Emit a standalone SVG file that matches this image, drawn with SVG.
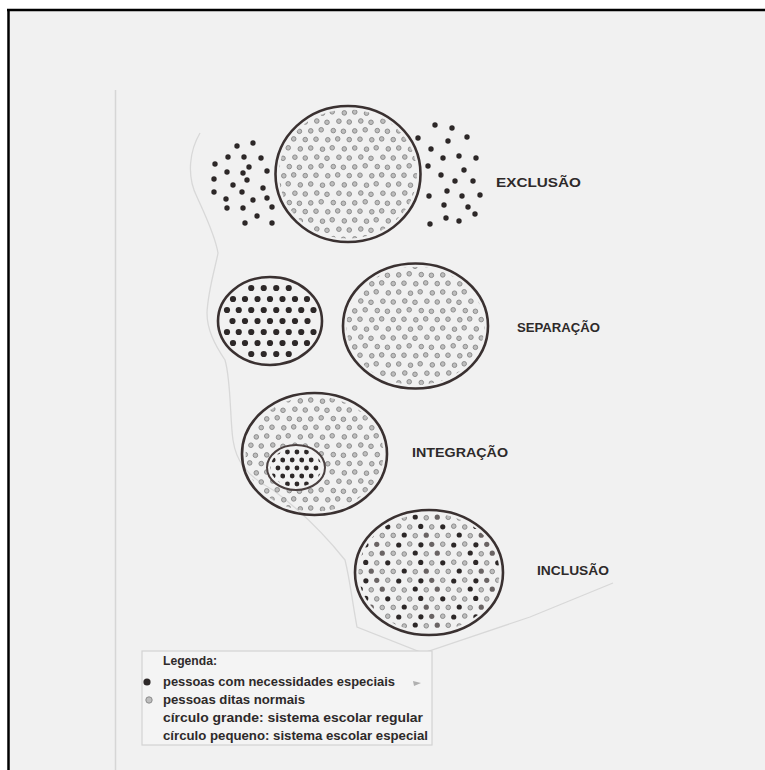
<svg xmlns="http://www.w3.org/2000/svg" width="765" height="770" viewBox="0 0 765 770">
<style>
.t{font-family:"Liberation Sans",Arial,sans-serif;font-weight:bold;fill:#2e2a2a}
.lbl{font-size:13px}
.leg{font-size:12.5px}
.ring{fill:none;stroke:#3a3131;stroke-width:2.6}
.ring2{fill:none;stroke:#4a4040;stroke-width:2}
.dk{fill:#2d2828}
.md{fill:#6a6464}
.gy{fill:#bdbdbd;stroke:#858585;stroke-width:0.9}
</style>
<defs>
<pattern id="pg" width="44" height="36" patternUnits="userSpaceOnUse">
<g class="gy">
<circle cx="2.75" cy="4.0" r="2.3"/><circle cx="14.5" cy="5.2" r="2.3"/><circle cx="24.2" cy="3.8" r="2.3"/><circle cx="36.3" cy="4.9" r="2.3"/>
<circle cx="8.8" cy="13.0" r="2.3"/><circle cx="19.0" cy="14.3" r="2.3"/><circle cx="30.9" cy="13.2" r="2.3"/><circle cx="41.25" cy="14.0" r="2.3"/>
<circle cx="2.75" cy="22.9" r="2.3"/><circle cx="13.2" cy="21.8" r="2.3"/><circle cx="25.3" cy="22.6" r="2.3"/><circle cx="35.4" cy="23.3" r="2.3"/>
<circle cx="8.0" cy="31.2" r="2.3"/><circle cx="19.8" cy="31.8" r="2.3"/><circle cx="29.7" cy="30.9" r="2.3"/><circle cx="41.25" cy="31.6" r="2.3"/>
</g>
</pattern>
<pattern id="ps" width="19" height="16" patternUnits="userSpaceOnUse">
<g class="dk">
<circle cx="2.45" cy="4" r="2.4"/><circle cx="11.95" cy="4" r="2.4"/>
<circle cx="7.2" cy="12" r="2.4"/><circle cx="16.7" cy="12" r="2.4"/>
</g>
</pattern>
<pattern id="pm" width="55" height="36" patternUnits="userSpaceOnUse">
<circle class="gy" cx="2.75" cy="4.2" r="2.3"/><circle class="dk" cx="13.75" cy="5.0" r="2.6"/><circle class="gy" cx="24.75" cy="4.0" r="2.3"/><circle class="dk" cx="35.9" cy="4.8" r="2.6"/><circle class="md" cx="46.75" cy="4.3" r="2.6"/>
<circle class="gy" cx="8.25" cy="13.3" r="2.3"/><circle class="gy" cx="19.25" cy="14.0" r="2.3"/><circle class="dk" cx="30.25" cy="13.0" r="2.6"/><circle class="gy" cx="41.25" cy="13.8" r="2.3"/><circle class="md" cx="52.25" cy="13.2" r="2.6"/>
<circle class="dk" cx="2.75" cy="22.8" r="2.6"/><circle class="gy" cx="13.75" cy="22.2" r="2.3"/><circle class="gy" cx="24.75" cy="23.0" r="2.3"/><circle class="dk" cx="35.75" cy="22.4" r="2.6"/><circle class="gy" cx="46.75" cy="22.9" r="2.3"/>
<circle class="gy" cx="8.25" cy="31.4" r="2.3"/><circle class="dk" cx="19.25" cy="31.0" r="2.6"/><circle class="gy" cx="30.25" cy="31.7" r="2.3"/><circle class="md" cx="41.25" cy="31.2" r="2.6"/><circle class="gy" cx="52.25" cy="31.5" r="2.3"/>
</pattern>
</defs>

<!-- background / scanned page -->
<rect x="0" y="0" width="765" height="770" fill="#ffffff"/>
<rect x="8" y="10" width="757" height="760" fill="#f1f1f1"/>
<line x1="8.5" y1="9" x2="8.5" y2="770" stroke="#000" stroke-width="2.5"/>
<line x1="7" y1="10" x2="765" y2="10" stroke="#000" stroke-width="2.5"/>
<line x1="115.5" y1="90" x2="115.5" y2="770" stroke="#d6d6d6" stroke-width="1.5"/>
<path d="M200,133 C190,150 186,175 197,197 C205,215 215,235 218,253 C216,265 208,290 207,313 C207,330 215,345 225,360 C231,380 230,420 233,440 C236,460 245,475 273,490 C300,510 325,535 345,560 C350,580 352,600 357,627 L423,653 L530,617 L613,583" fill="none" stroke="#d8d8d8" stroke-width="1.3"/>

<g id="connectors"></g>

<g id="exclusao">
<ellipse cx="348" cy="174" rx="69" ry="64.5" fill="url(#pg)"/>
<ellipse class="ring" cx="348" cy="174" rx="72.5" ry="68"/>
<g class="dk">
<circle cx="237" cy="146" r="2.7"/><circle cx="253" cy="143" r="2.7"/><circle cx="228" cy="157" r="2.7"/><circle cx="244" cy="157" r="2.7"/><circle cx="261" cy="158" r="2.7"/>
<circle cx="215" cy="164" r="2.7"/><circle cx="249" cy="167" r="2.7"/><circle cx="227" cy="172" r="2.7"/><circle cx="243" cy="173" r="2.7"/><circle cx="267" cy="171" r="2.7"/>
<circle cx="214" cy="179" r="2.7"/><circle cx="247" cy="180" r="2.7"/><circle cx="233" cy="185" r="2.7"/><circle cx="263" cy="188" r="2.7"/>
<circle cx="214" cy="192" r="2.7"/><circle cx="242" cy="192" r="2.7"/><circle cx="226" cy="199" r="2.7"/><circle cx="253" cy="200" r="2.7"/><circle cx="267" cy="198" r="2.7"/>
<circle cx="227" cy="208" r="2.7"/><circle cx="243" cy="208" r="2.7"/><circle cx="272" cy="207" r="2.7"/><circle cx="257" cy="216" r="2.7"/><circle cx="245" cy="223" r="2.7"/><circle cx="272" cy="223" r="2.7"/>
<circle cx="435" cy="125" r="2.7"/><circle cx="452" cy="128" r="2.7"/><circle cx="418" cy="138" r="2.7"/><circle cx="448" cy="141" r="2.7"/><circle cx="467" cy="137" r="2.7"/>
<circle cx="431" cy="149" r="2.7"/><circle cx="443" cy="158" r="2.7"/><circle cx="459" cy="156" r="2.7"/><circle cx="476" cy="158" r="2.7"/><circle cx="428" cy="166" r="2.7"/>
<circle cx="464" cy="170" r="2.7"/><circle cx="441" cy="175" r="2.7"/><circle cx="455" cy="181" r="2.7"/><circle cx="473" cy="181" r="2.7"/><circle cx="447" cy="191" r="2.7"/>
<circle cx="429" cy="196" r="2.7"/><circle cx="462" cy="196" r="2.7"/><circle cx="480" cy="195" r="2.7"/><circle cx="444" cy="205" r="2.7"/><circle cx="468" cy="207" r="2.7"/>
<circle cx="430" cy="224" r="2.7"/><circle cx="446" cy="218" r="2.7"/><circle cx="459" cy="221" r="2.7"/><circle cx="475" cy="214" r="2.7"/>
</g>
<text class="t lbl" x="496" y="187" textLength="85" lengthAdjust="spacingAndGlyphs">EXCLUSÃO</text>
</g>

<g id="separacao">
<g class="dk">
<circle cx="251.25" cy="288" r="3.1"/><circle cx="263.75" cy="288" r="3.1"/><circle cx="276.25" cy="288" r="3.1"/><circle cx="288.75" cy="288" r="3.1"/>
<circle cx="233" cy="299" r="3.1"/><circle cx="245" cy="299" r="3.1"/><circle cx="257.5" cy="299" r="3.1"/><circle cx="270" cy="299" r="3.1"/><circle cx="282.5" cy="299" r="3.1"/><circle cx="295" cy="299" r="3.1"/><circle cx="307" cy="299" r="3.1"/>
<circle cx="227" cy="310" r="3.1"/><circle cx="238.75" cy="310" r="3.1"/><circle cx="251.25" cy="310" r="3.1"/><circle cx="263.75" cy="310" r="3.1"/><circle cx="276.25" cy="310" r="3.1"/><circle cx="288.75" cy="310" r="3.1"/><circle cx="301.25" cy="310" r="3.1"/><circle cx="313.5" cy="310" r="3.1"/>
<circle cx="232.5" cy="321" r="3.1"/><circle cx="245" cy="321" r="3.1"/><circle cx="257.5" cy="321" r="3.1"/><circle cx="270" cy="321" r="3.1"/><circle cx="282.5" cy="321" r="3.1"/><circle cx="295" cy="321" r="3.1"/><circle cx="307.5" cy="321" r="3.1"/>
<circle cx="227" cy="332" r="3.1"/><circle cx="238.75" cy="332" r="3.1"/><circle cx="251.25" cy="332" r="3.1"/><circle cx="263.75" cy="332" r="3.1"/><circle cx="276.25" cy="332" r="3.1"/><circle cx="288.75" cy="332" r="3.1"/><circle cx="301.25" cy="332" r="3.1"/><circle cx="313.5" cy="332" r="3.1"/>
<circle cx="233" cy="343" r="3.1"/><circle cx="245" cy="343" r="3.1"/><circle cx="257.5" cy="343" r="3.1"/><circle cx="270" cy="343" r="3.1"/><circle cx="282.5" cy="343" r="3.1"/><circle cx="295" cy="343" r="3.1"/><circle cx="307" cy="343" r="3.1"/>
<circle cx="251.25" cy="354" r="3.1"/><circle cx="263.75" cy="354" r="3.1"/><circle cx="276.25" cy="354" r="3.1"/><circle cx="288.75" cy="354" r="3.1"/>
</g>
<ellipse class="ring" cx="270" cy="321" rx="52" ry="44"/>
<ellipse cx="415.5" cy="326" rx="69" ry="59" fill="url(#pg)"/>
<ellipse class="ring" cx="415.5" cy="326" rx="72.5" ry="62.5"/>
<text class="t lbl" x="517" y="332" textLength="83" lengthAdjust="spacingAndGlyphs">SEPARAÇÃO</text>
</g>

<g id="integracao">
<ellipse cx="314.5" cy="454" rx="69" ry="57.5" fill="url(#pg)"/>
<ellipse class="ring" cx="314.5" cy="454" rx="72.5" ry="61"/>
<ellipse cx="296" cy="467.5" rx="29" ry="22.5" fill="#f2f2f2"/>
<ellipse cx="296" cy="467.5" rx="25.5" ry="19.5" fill="url(#ps)"/>
<ellipse class="ring2" cx="296" cy="467.5" rx="29" ry="22.5"/>
<text class="t lbl" x="412" y="457" textLength="96" lengthAdjust="spacingAndGlyphs">INTEGRAÇÃO</text>
</g>

<g id="inclusao">
<ellipse cx="429" cy="572.5" rx="70.5" ry="59" fill="url(#pm)"/>
<ellipse class="ring" cx="429" cy="572.5" rx="74" ry="62.5"/>
<text class="t lbl" x="537" y="575" textLength="72" lengthAdjust="spacingAndGlyphs">INCLUSÃO</text>
</g>

<g id="legenda">
<rect x="142" y="651" width="290" height="94" fill="#f4f4f4" stroke="#d2d2d2" stroke-width="1.2"/>
<text class="t leg" x="163" y="665" textLength="54" lengthAdjust="spacingAndGlyphs">Legenda:</text>
<circle cx="147" cy="682" r="3.6" fill="#2d2828"/>
<text class="t leg" x="163" y="686" textLength="232" lengthAdjust="spacingAndGlyphs">pessoas com necessidades especiais</text>
<path d="M413,681 L421,683 L414,686 Z" fill="#b0b0b0"/>
<circle cx="149" cy="700" r="3.2" class="gy"/>
<text class="t leg" x="163" y="704" textLength="142" lengthAdjust="spacingAndGlyphs">pessoas ditas normais</text>
<text class="t leg" x="163" y="722" textLength="260" lengthAdjust="spacingAndGlyphs">círculo grande: sistema escolar regular</text>
<text class="t leg" x="163" y="740" textLength="265" lengthAdjust="spacingAndGlyphs">círculo pequeno: sistema escolar especial</text>
</g>
</svg>
